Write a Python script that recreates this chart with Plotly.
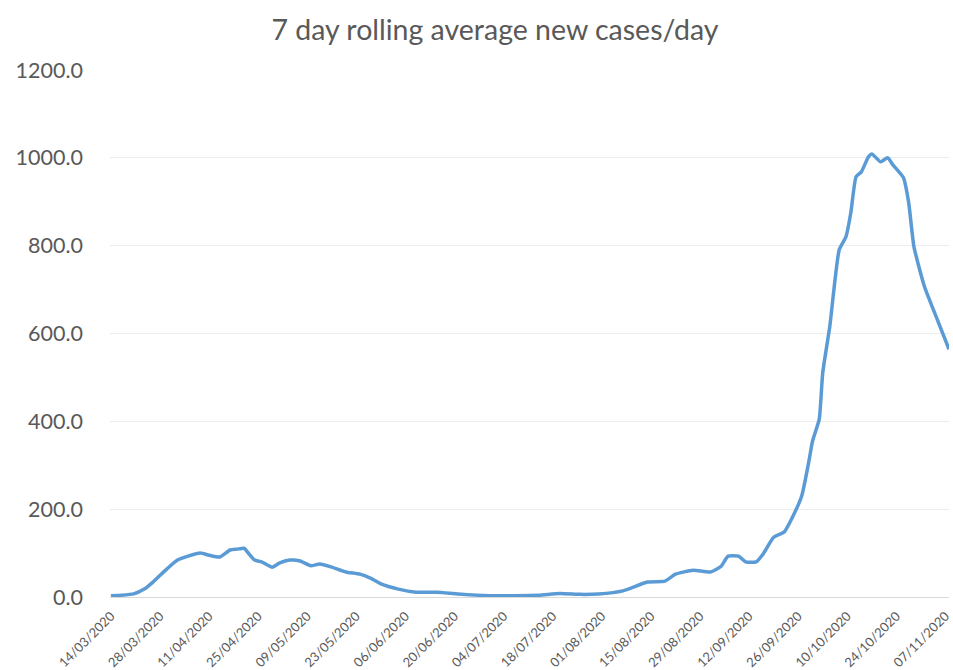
import datetime as dt
import plotly.graph_objects as go

# day offsets from 14/03/2020 and values
day_offsets = [0, 3, 6.5, 9.5, 12, 16, 19, 22, 25.5, 28, 31, 34, 36, 38, 39, 41, 43, 46, 48, 51,
               54, 57, 59.5, 63, 67, 71, 74, 77, 82, 87, 93, 99, 108, 115, 122, 128, 134, 139,
               146, 153, 158, 161, 166, 171, 174, 176, 179, 181, 184, 186, 189, 192, 194.5, 197,
               199, 200, 200.5, 202, 203, 205, 207.7, 209.6, 211, 212.5, 214, 216, 217, 219.5,
               221.5, 223, 226, 227.5, 229, 232, 236, 239]
values = [3, 4, 7, 18, 34, 64, 84, 93, 100, 95, 91, 107, 109, 111, 102, 84, 80, 68, 77, 84,
          82, 71, 75, 68, 57, 52, 43, 30, 18, 11, 11, 7, 3, 3, 4, 8, 6, 7,
          14, 34, 36, 52, 61, 57, 70, 93, 93, 80, 80, 98, 136, 148, 184, 230,
          307, 352, 366, 405, 511, 616, 791, 820, 875, 957, 968, 1002, 1009, 991,
          1000, 984, 955, 898, 798, 707, 625, 564]

start = dt.datetime(2020, 3, 14)
dates = [start + dt.timedelta(days=d) for d in day_offsets]

tick_dates = [start + dt.timedelta(days=14 * i) for i in range(18)]
tick_labels = [d.strftime("%d/%m/%Y") for d in tick_dates]
y_ticks = [0, 200, 400, 600, 800, 1000, 1200]

fig = go.Figure()
fig.add_trace(go.Scatter(x=dates, y=values, mode="lines",
                         line=dict(color="#5B9BD5", width=3.5, shape="spline", smoothing=0.5),
                         hoverinfo="skip", cliponaxis=True))

fig.update_layout(
    width=953, height=670,
    margin=dict(l=110, r=0, t=70, b=72),
    paper_bgcolor="white", plot_bgcolor="white",
    showlegend=False,
    font=dict(family="Lato, Carlito, sans-serif", color="#595959"),
    title=dict(text="7 day rolling average new cases/day", x=495 / 953, xref="container",
               xanchor="center", y=0.955, yanchor="middle",
               font=dict(size=28.5, color="#595959")),
)
fig.update_xaxes(
    range=[start - dt.timedelta(hours=6), start + dt.timedelta(days=239)],
    tickvals=tick_dates, ticktext=tick_labels, tickangle=-45,
    tickfont=dict(size=13, color="#595959"),
    showgrid=False, showline=False, zeroline=False, ticks="",
    ticklabeloverflow="allow", ticklabelstandoff=8,
)
fig.update_yaxes(
    range=[0, 1200], tickvals=y_ticks, tickformat=".1f",
    tickfont=dict(size=21.5, color="#595959"),
    showgrid=True, gridcolor="#ECECEC", gridwidth=1,
    zeroline=True, zerolinecolor="#D9D9D9", zerolinewidth=1,
    showline=False, ticks="", ticklabelstandoff=26,
)

fig.write_html("out.html")
